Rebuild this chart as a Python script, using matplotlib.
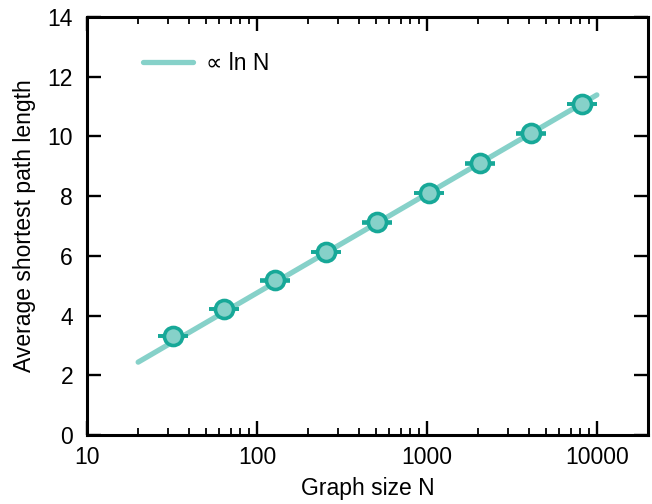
import matplotlib
matplotlib.use("Agg")
import matplotlib.pyplot as plt
from matplotlib.ticker import LogLocator, NullFormatter

plt.rcParams['font.family'] = ['Liberation Sans', 'DejaVu Sans']

# Data
N = [32, 64, 128, 256, 512, 1024, 2048, 4096, 8192]
avg_path = [3.32, 4.22, 5.18, 6.13, 7.12, 8.10, 9.10, 10.10, 11.09]
avg_err = [0.01] * len(N)
fit_N = [20, 10000]
fit_y = [2.44, 11.39]
x_ticks = [10, 100, 1000, 10000]
x_ticklabels = ['10', '100', '1000', '10000']
y_ticks = [0, 2, 4, 6, 8, 10, 12, 14]

line_col = '#86d1c9'
face_col = '#86d1c9'
edge_col = '#17a898'

fig = plt.figure(figsize=(6.52, 5.04), dpi=100)
ax = fig.add_axes([87/652, 69/504, (648-87)/652, (435-17)/504])

ax.plot(fit_N, fit_y, color=line_col, lw=3.8, solid_capstyle='round',
        label='∝ ln N', zorder=2)
ax.errorbar(N, avg_path, yerr=avg_err, fmt='o', ms=13, mfc=face_col,
            mec=edge_col, mew=2.6, ecolor=edge_col, elinewidth=2,
            capsize=10.5, capthick=2.6, zorder=3)

ax.set_xscale('log')
ax.set_xlim(10, 20000)
ax.set_ylim(0, 14)
ax.set_xticks(x_ticks)
ax.set_xticklabels(x_ticklabels)
ax.xaxis.set_minor_locator(LogLocator(base=10, subs=range(2, 10)))
ax.xaxis.set_minor_formatter(NullFormatter())
ax.set_yticks(y_ticks)

for s in ax.spines.values():
    s.set_linewidth(2.2)

ax.tick_params(which='major', direction='in', length=10, width=1.7,
               labelsize=16.5, top=True, right=True)
ax.tick_params(axis='y', which='major', pad=10)
ax.tick_params(axis='x', which='major', pad=8)
ax.tick_params(which='minor', direction='in', length=5, width=1.3,
               top=True, right=True)

ax.set_xlabel('Graph size N', fontsize=16.5, labelpad=6)
ax.set_ylabel('Average shortest path length', fontsize=16.5, labelpad=8)

leg = ax.legend(loc='upper left', bbox_to_anchor=(0.063, 0.965), frameon=False,
                fontsize=16.5, handlelength=2.2, handletextpad=0.55)

fig.savefig('out.png', dpi=100)
